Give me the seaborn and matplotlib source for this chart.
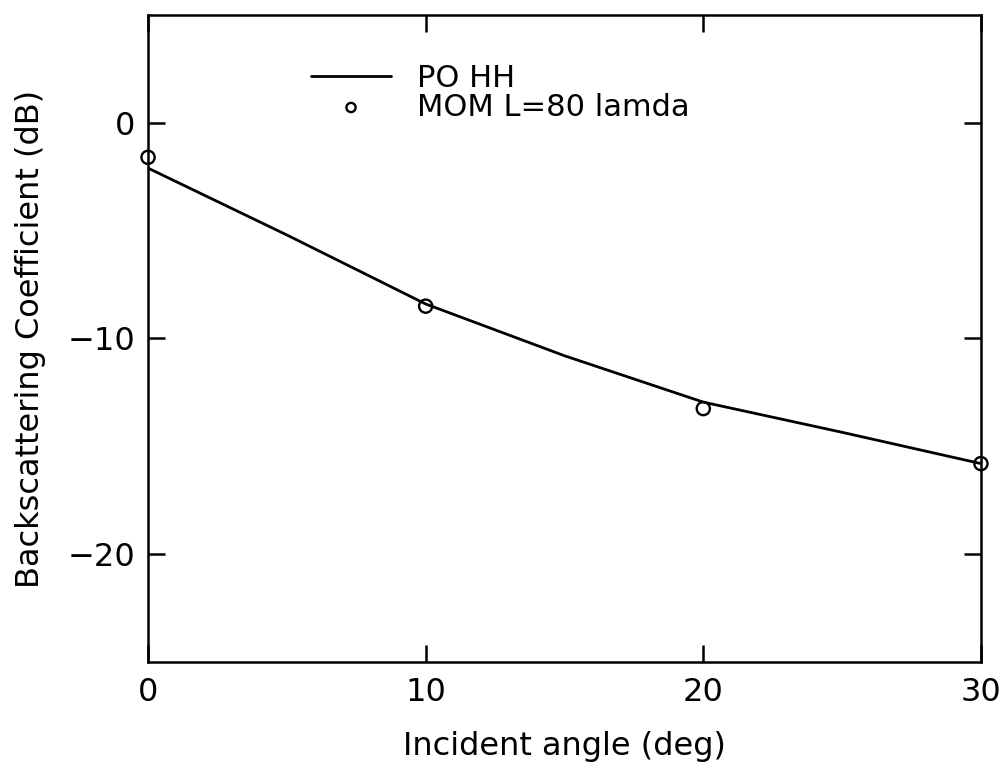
import pandas as pd
import seaborn as sns
import matplotlib.pyplot as plt

# values
po_angle = [0, 5, 10, 15, 20, 25, 30]
po_hh = [-2.1, -5.2, -8.4, -10.8, -12.95, -14.35, -15.8]

mom_angle = [0, 10, 20, 30]
mom_db = [-1.6, -8.5, -13.25, -15.8]

x_ticks = [0, 10, 20, 30]
y_ticks = [-20, -10, 0]

po = pd.DataFrame({'angle': po_angle, 'db': po_hh})
mom = pd.DataFrame({'angle': mom_angle, 'db': mom_db})

sns.set_theme(style="ticks")
plt.rcParams['font.family'] = ['DejaVu Sans']
plt.rcParams['text.color'] = 'black'
plt.rcParams['axes.labelcolor'] = 'black'

fig, ax = plt.subplots(figsize=(10.03, 7.68), dpi=100)
fig.subplots_adjust(left=0.1476, right=0.978, top=0.9805, bottom=0.138)

sns.lineplot(data=po, x='angle', y='db', ax=ax, color='black', linewidth=2.0,
             label='PO HH')
sns.scatterplot(data=mom, x='angle', y='db', ax=ax, marker='o', s=90,
                facecolors='none', edgecolors='black', linewidths=1.7,
                label='MOM L=80 lamda', clip_on=False, zorder=5)

ax.set_xlim(0, 30)
ax.set_ylim(-25, 5)
ax.set_xticks(x_ticks)
ax.set_yticks(y_ticks)
ax.set_xticklabels([str(v) for v in x_ticks])
ax.set_yticklabels([str(v).replace('-', '\u2212') for v in y_ticks])

for s in ax.spines.values():
    s.set_linewidth(1.8)
    s.set_color('black')

ax.tick_params(axis='both', direction='in', length=12, width=1.8,
               labelsize=23, colors='black', pad=9)
ax.tick_params(axis='y', right=True)
ax.tick_params(axis='x', top=True, pad=11)

ax.set_xlabel('Incident angle (deg)', fontsize=23, labelpad=16)
ax.set_ylabel('Backscattering Coefficient (dB)', fontsize=23, labelpad=16)

leg = ax.legend(loc='upper left', bbox_to_anchor=(0.196, 0.925),
                frameon=False, fontsize=22, handlelength=2.6,
                handletextpad=0.85, labelspacing=0.0, borderpad=0,
                borderaxespad=0, markerscale=0.7)

fig.savefig('out.png', dpi=100)
